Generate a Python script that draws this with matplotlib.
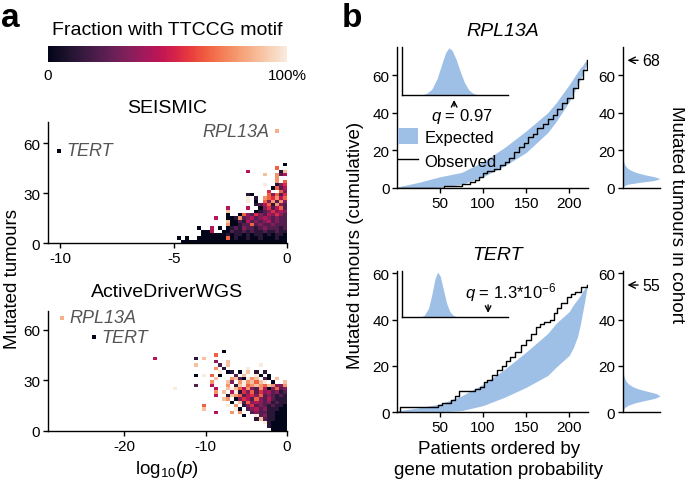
import numpy as np
import matplotlib
matplotlib.use("Agg")
import matplotlib.pyplot as plt
import seaborn as sns
from matplotlib.patches import Patch
from matplotlib.lines import Line2D
from matplotlib.colors import Normalize
from matplotlib.cm import ScalarMappable

plt.rcParams['font.family'] = ['Liberation Sans', 'DejaVu Sans']
plt.rcParams['mathtext.fontset'] = 'custom'
plt.rcParams['mathtext.rm'] = 'Liberation Sans'
plt.rcParams['mathtext.it'] = 'Liberation Sans:italic'
plt.rcParams['axes.linewidth'] = 1.0
plt.rcParams['axes.unicode_minus'] = False

cmap = sns.color_palette("rocket", as_cmap=True)
blue = '#9fc0e6'

# --- panel a: binned heatmaps, rows top -> bottom, right aligned to log10(p)=0
# digit = fraction with motif (0..9 -> 0..100%), '.' = no genes
seismic_rows = [
    "0",
    "6..",
    "4.......18",
    "8..724",
    "7..",
    "7.6",
    "9..135",
    "0624",
    "5..63",
    "10...63625",
    "9.1.765746",
    "9.0.637273",
    "12461732",
    "4....4..0352462",
    "8......01235343",
    "0..063253243532",
    "4..001723423432322",
    "800214232342322",
    "700122623223222",
    "0..4.0.012132212322212",
    "004..0021121211211211",
    "000000101101011010110",
    "0.0..0000000601001001000100",
    "00000000000000000000000000",
]
seismic_ncol, seismic_dx, seismic_dy = 27, 0.18, 2

adw_rows = [
    "0...............",
    "6.................",
    "4.........1.8....................",
    "3..8..............",
    "8.....2.8.......9......",
    "7.1.....9.........",
    "9.01.0.8.1.1.....",
    "0.9.6.0...2.8..90.0....",
    "8...7820978.20.8..",
    "7...83.7978689.0..8",
    "2...4...7.1896787687337",
    "9.........4..898647327403623",
    "7.8.49153625342312",
    "4..187624536232121",
    "87.0354263242111",
    "0.826343231211",
    "6.....9.7.13523212110",
    "8.......90.2342311100",
    "4...7.7..232211000",
    "0..92311000",
    "18211000",
    "910000",
    "10000",
    "0000",
]
adw_ncol, adw_dx, adw_dy = 34, 0.5, 2

# labelled genes: (name, log10 p, tumours, fraction)
seismic_genes = [("TERT", -10.05, 55.5, 0.0), ("RPL13A", -0.45, 67, 0.85)]
adw_genes = [("RPL13A", -27.7, 67, 0.85), ("TERT", -23.7, 55.5, 0.0)]

# --- panel b
band_x = [0, 25, 50, 75, 100, 125, 150, 175, 185, 200, 205, 210, 213, 216, 218, 221]
rpl_lower = [0, 0, 0.4, 2, 6, 11.8, 18.9, 29.5, 35.5, 46, 50.5, 55, 58, 61, 63.5, 66.5]
rpl_upper = [0.5, 3, 6, 8.3, 14, 21.6, 30.4, 40.1, 45.5, 55, 58.5, 62, 64, 65.5, 67, 68.5]
tert_lower = [0, 0, 0, 0.6, 2.8, 6.4, 10.7, 15.8, 19.5, 24.5, 28, 33, 38, 44, 48, 54.5]
tert_upper = [0.5, 1.8, 3.5, 7, 12, 18.5, 26, 34, 38.5, 43.5, 46.5, 49, 50.5, 52.5, 53.5, 55.5]

rpl_obs_x = [0, 55, 62, 75, 85, 90, 95, 100, 105, 113, 120, 125, 130, 136, 142,
             147, 152, 158, 163, 169, 175, 181, 186, 192, 198, 204, 210, 216, 221]
rpl_obs_y = [0, 1, 1, 2, 3, 4, 6, 8, 9, 10, 12, 14, 16, 19, 22,
             24, 27, 29, 32, 34, 37, 39, 42, 45, 48, 53, 58, 63, 68]
tert_obs_x = [0, 3, 48, 52, 63, 67, 72, 87, 91, 96, 101, 105, 110, 116, 122, 127, 131,
              137, 144, 150, 156, 161, 166, 171, 178, 182, 186, 190, 197, 202, 207, 214, 221]
tert_obs_y = [0, 2, 3, 4, 5, 7, 9, 9, 10, 11, 13, 14, 16, 18, 20, 22, 24,
              26, 29, 31, 34, 37, 38, 39, 40, 43, 45, 47, 50, 51, 52, 54, 55]

# inset: distribution of expected statistic
rpl_inset_x = [18, 23, 28, 33, 38, 41, 44, 47, 51, 55, 59, 63, 67, 72]
rpl_inset_d = [0, 0.03, 0.12, 0.35, 0.7, 0.9, 1.0, 0.95, 0.75, 0.48, 0.25, 0.1, 0.03, 0]
tert_inset_x = [17, 21, 25, 28, 31, 33.5, 36, 39, 42, 45, 48, 52]
tert_inset_d = [0, 0.04, 0.2, 0.5, 0.85, 1.0, 0.9, 0.6, 0.3, 0.12, 0.04, 0]
rpl_obs_stat, tert_obs_stat = 49, 81

# side: expected number of mutated tumours in cohort
rpl_side_y = list(range(18))
rpl_side_d = [0, 0.02, 0.12, 0.45, 0.85, 1.0, 0.85, 0.6, 0.4, 0.26, 0.16, 0.1,
              0.06, 0.035, 0.02, 0.01, 0.005, 0]
tert_side_y = list(range(19))
tert_side_d = [0, 0.01, 0.05, 0.15, 0.33, 0.6, 0.88, 1.0, 0.9, 0.65, 0.42, 0.26,
               0.16, 0.1, 0.06, 0.035, 0.02, 0.01, 0]
rpl_total, tert_total = 68, 55

LBL = 13.5


def grid(rows, ncol):
    m = np.full((len(rows), ncol), np.nan)
    for i, s in enumerate(rows):
        r = len(rows) - 1 - i
        for c, ch in enumerate(s.rjust(ncol, '.')):
            if ch != '.':
                m[r, c] = int(ch) / 9
    return np.ma.masked_invalid(m)


def style(ax, size=11):
    ax.spines['top'].set_visible(False)
    ax.spines['right'].set_visible(False)
    ax.tick_params(direction='out', length=3.5, width=1, labelsize=size, pad=2)


fig = plt.figure(figsize=(6.85, 4.89), dpi=100)

# colourbar
cax = fig.add_axes([0.070, 0.871, 0.349, 0.033])
cb = fig.colorbar(ScalarMappable(Normalize(0, 1), cmap), cax=cax, orientation='horizontal')
cb.outline.set_visible(False)
cb.set_ticks([0, 1])
cb.set_ticklabels(['0', '100%'])
cax.tick_params(length=0, labelsize=11, pad=4)
fig.text(0.2445, 0.937, 'Fraction with TTCCG motif', ha='center', va='center', fontsize=14)


def heat(ax, rows, ncol, dx, dy, genes, xlim, ylim, xticks, text_side):
    m = grid(rows, ncol)
    xe = np.arange(-ncol, 1) * dx
    ye = np.arange(len(rows) + 1) * dy
    ax.pcolormesh(xe, ye, m, cmap=cmap, vmin=0, vmax=1)
    for name, gx, gy, frac in genes:
        ax.scatter([gx], [gy], marker='s', s=12, color=cmap(frac), lw=0)
        off = 0.03 * (xlim[1] - xlim[0])
        if text_side[name] == 'right':
            ax.text(gx + off, gy, name, style='italic', color='#555555',
                    fontsize=13, va='center', ha='left')
        else:
            ax.text(gx - off, gy, name, style='italic', color='#555555',
                    fontsize=13, va='center', ha='right')
    ax.set_xlim(*xlim)
    ax.set_ylim(*ylim)
    ax.set_xticks(xticks)
    ax.set_yticks([0, 30, 60])
    style(ax)


ax_s = fig.add_axes([0.070, 0.501, 0.349, 0.247])
heat(ax_s, seismic_rows, seismic_ncol, seismic_dx, seismic_dy, seismic_genes,
     (-10.55, 0), (0, 72.5), [-10, -5, 0], {'TERT': 'right', 'RPL13A': 'left'})
fig.text(0.2445, 0.779, 'SEISMIC', ha='center', va='center', fontsize=14)

ax_a = fig.add_axes([0.070, 0.1166, 0.349, 0.245])
heat(ax_a, adw_rows, adw_ncol, adw_dx, adw_dy, adw_genes,
     (-29.4, 0), (0, 71), [-20, -10, 0], {'TERT': 'right', 'RPL13A': 'right'})
fig.text(0.2445, 0.401, 'ActiveDriverWGS', ha='center', va='center', fontsize=14)
fig.text(0.2445, 0.040, r'log$_{10}$($p$)', ha='center', va='center', fontsize=LBL)
fig.text(0.018, 0.43, 'Mutated tumours', rotation=90, ha='center', va='center', fontsize=LBL)


def main_panel(ax, lower, upper, ox, oy, ylim):
    ax.fill_between(band_x, lower, upper, color=blue, lw=0)
    ax.step(ox, oy, where='post', color='black', lw=1)
    ax.set_xlim(0, 222)
    ax.set_ylim(0, ylim)
    ax.set_xticks([50, 100, 150, 200])
    ax.set_yticks([0, 20, 40, 60])
    style(ax)


def inset_panel(ax, ix, idens):
    ax.fill_between(ix, 0, idens, color=blue, lw=0)
    ax.set_xlim(0, 100)
    ax.set_ylim(0, 1.02)
    ax.set_xticks([])
    ax.set_yticks([])
    ax.set_facecolor('none')
    ax.spines['top'].set_visible(False)
    ax.spines['right'].set_visible(False)


def side_panel(ax, sy, sd, ylim, total):
    ax.fill_betweenx(sy, 0, sd, color=blue, lw=0)
    ax.set_xlim(0, 1.0)
    ax.set_ylim(0, ylim)
    ax.set_xticks([])
    ax.set_yticks([0, 20, 40, 60])
    style(ax)
    ax.annotate(str(total), xy=(0.12, total), xytext=(0.52, total),
                ha='left', va='center', fontsize=11.5,
                arrowprops=dict(arrowstyle='->', lw=1, color='black',
                                shrinkA=1, shrinkB=0))


# RPL13A
ax1 = fig.add_axes([0.5796, 0.6135, 0.279, 0.288])
main_panel(ax1, rpl_lower, rpl_upper, rpl_obs_x, rpl_obs_y, 75)
ax1.legend(handles=[Patch(color=blue, lw=0), Line2D([], [], color='black', lw=1)],
           labels=['Expected', 'Observed'], loc='upper left', bbox_to_anchor=(-0.03, 0.47),
           frameon=False, fontsize=12, handlelength=1.2, handleheight=1.1,
           handletextpad=0.4, labelspacing=0.45, borderaxespad=0)
ins1 = fig.add_axes([0.587, 0.804, 0.155, 0.098])
inset_panel(ins1, rpl_inset_x, rpl_inset_d)
ins1.annotate('', xy=(rpl_obs_stat, -0.05), xytext=(rpl_obs_stat, -0.3),
              arrowprops=dict(arrowstyle='->', lw=1, color='black'), annotation_clip=False)
ins1.text(56.6, -0.43, r'$q$ = 0.97', ha='center', va='center', fontsize=12, clip_on=False)
side1 = fig.add_axes([0.9095, 0.6135, 0.054, 0.288])
side_panel(side1, rpl_side_y, rpl_side_d, 75, rpl_total)
fig.text(503 / 685, 1 - 31.5 / 489, 'RPL13A', style='italic', ha='center', va='center', fontsize=14)

# TERT
ax2 = fig.add_axes([0.5796, 0.1554, 0.279, 0.288])
main_panel(ax2, tert_lower, tert_upper, tert_obs_x, tert_obs_y, 61)
ins2 = fig.add_axes([0.587, 0.3497, 0.155, 0.094])
inset_panel(ins2, tert_inset_x, tert_inset_d)
ins2.annotate('', xy=(tert_obs_stat, 0.03), xytext=(tert_obs_stat, 0.33),
              arrowprops=dict(arrowstyle='->', lw=1, color='black'), annotation_clip=False)
ins2.text(102, 0.57, r'$q$ = 1.3*10$^{-6}$', ha='center', va='center', fontsize=12, clip_on=False)
side2 = fig.add_axes([0.9095, 0.1554, 0.054, 0.288])
side_panel(side2, tert_side_y, tert_side_d, 61, tert_total)
fig.text(498 / 685, 1 - 256 / 489, 'TERT', style='italic', ha='center', va='center', fontsize=14)

fig.text(355.5 / 685, 1 - 245 / 489, 'Mutated tumours (cumulative)', rotation=90,
         ha='center', va='center', fontsize=LBL)
fig.text(677 / 685, 1 - 215 / 489, 'Mutated tumours in cohort', rotation=270,
         ha='center', va='center', fontsize=LBL)
fig.text(499 / 685, 1 - 460 / 489, 'Patients ordered by\ngene mutation probability',
         ha='center', va='center', fontsize=LBL, linespacing=1.3)

fig.text(1 / 685, 1 - 27 / 489, 'a', fontsize=24, fontweight='bold', ha='left', va='baseline')
fig.text(342 / 685, 1 - 27 / 489, 'b', fontsize=24, fontweight='bold', ha='left', va='baseline')

fig.savefig('out.png', dpi=100)
